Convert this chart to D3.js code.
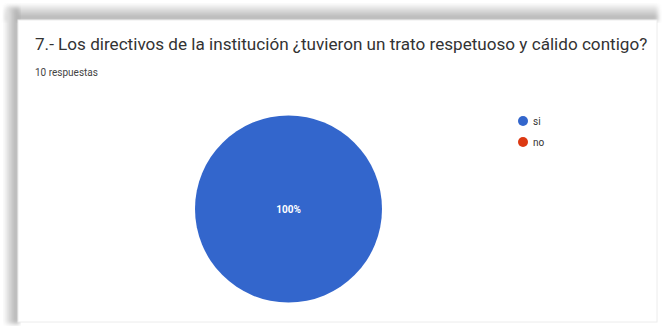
<!DOCTYPE html>
<html><head><meta charset="utf-8">
<script src="https://cdn.jsdelivr.net/npm/d3@7"></script>
<style>html,body{margin:0;padding:0;background:#fff;}svg{display:block;}</style>
</head><body>
<script>
const title = "7.- Los directivos de la institución ¿tuvieron un trato respetuoso y cálido contigo?";
const subtitle = "10 respuestas";
const categories = ["si", "no"];
const values = [10, 0];
const colors = ["#3366cc", "#dc3912"];

const W = 662, H = 326;
const svg = d3.select("body").append("svg").attr("width", W).attr("height", H);
const defs = svg.append("defs");
const gTop = defs.append("linearGradient").attr("id","gTop").attr("x1",0).attr("y1",0).attr("x2",0).attr("y2",1);
gTop.append("stop").attr("offset","0%").attr("stop-color","#f2f2f2");
gTop.append("stop").attr("offset","100%").attr("stop-color","#a9a9a9");
const gLeft = defs.append("linearGradient").attr("id","gLeft").attr("x1",0).attr("y1",0).attr("x2",1).attr("y2",0);
gLeft.append("stop").attr("offset","0%").attr("stop-color","#f0f0f0");
gLeft.append("stop").attr("offset","100%").attr("stop-color","#a6a6a6");
const blur = defs.append("filter").attr("id","bl").attr("x","-10%").attr("y","-10%").attr("width","120%").attr("height","120%");
blur.append("feGaussianBlur").attr("stdDeviation",2);

// shadow frame
svg.append("rect").attr("x",6).attr("y",5).attr("width",652).attr("height",16).attr("fill","url(#gTop)").attr("filter","url(#bl)");
svg.append("rect").attr("x",5).attr("y",8).attr("width",14).attr("height",316).attr("fill","url(#gLeft)").attr("filter","url(#bl)");
// card
svg.append("rect").attr("x",18).attr("y",20).attr("width",639).attr("height",302).attr("fill","#fff").attr("stroke","#ececec").attr("stroke-width",1);

// title
const t = svg.append("text").attr("x",35).attr("y",50).attr("fill","#333")
  .attr("font-family","Roboto, 'Noto Sans', sans-serif").attr("font-size",15).text(title);
const tl = t.node().getComputedTextLength();
t.attr("font-size", 15 * 613 / tl);
svg.append("text").attr("x",35).attr("y",76).attr("fill","#444")
  .attr("font-family","Roboto, 'Noto Sans', sans-serif").attr("font-size",10).text(subtitle);

// pie
const cx = 288.5, cy = 209, r = 93.5;
const pie = d3.pie().sort(null).value(d => d.v);
const data = categories.map((c,i) => ({c, v: values[i], col: colors[i]}));
const arc = d3.arc().innerRadius(0).outerRadius(r);
const g = svg.append("g").attr("transform",`translate(${cx},${cy})`);
const total = d3.sum(values);
g.selectAll("path").data(pie(data)).join("path").attr("d",arc).attr("fill",d=>d.data.col);
g.selectAll("text.lbl").data(pie(data).filter(d=>d.data.v>0)).join("text")
  .attr("class","lbl")
  .attr("transform", d => d.endAngle - d.startAngle >= 2*Math.PI - 1e-6 ? "translate(0,0)" : `translate(${arc.centroid(d)})`)
  .attr("text-anchor","middle").attr("dy","0.35em").attr("fill","#fff")
  .attr("font-family","Roboto, Arial, sans-serif").attr("font-size",10).attr("font-weight","bold")
  .text(d => d3.format(".0%")(d.data.v/total));

// legend
const lg = svg.append("g").attr("transform","translate(523,121)");
const items = lg.selectAll("g").data(data).join("g").attr("transform",(d,i)=>`translate(0,${i*21})`);
items.append("circle").attr("r",5).attr("fill",d=>d.col);
items.append("text").attr("x",10).attr("dy","0.35em").attr("fill","#333")
  .attr("font-family","Roboto, Arial, sans-serif").attr("font-size",10).text(d=>d.c);
</script>
</body></html>
